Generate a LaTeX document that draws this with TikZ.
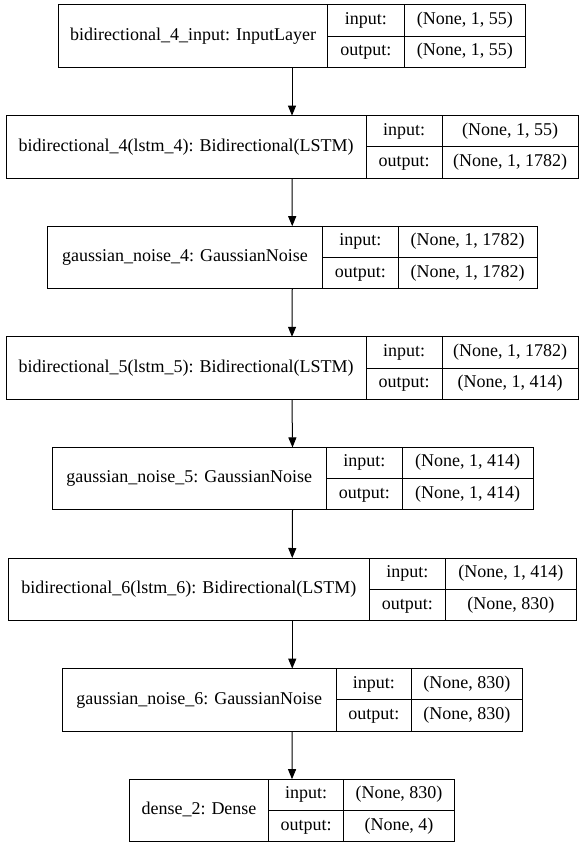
\documentclass[tikz,border=0pt]{standalone}
\usepackage{fontspec}
\setmainfont{Liberation Serif}
\usetikzlibrary{arrows.meta}

\tikzset{
  layerframe/.style={draw=black, line width=1pt, rectangle, inner sep=0pt, outer sep=0pt},
  divider/.style={draw=black, line width=1pt},
  celltext/.style={font=\fontsize{18}{20}\selectfont, inner sep=0pt, anchor=base},
  flow/.style={draw=black, line width=1pt, -{Triangle[length=10pt,width=8pt]}}
}

% One layer: #1 node name, #2 top edge, #3 left edge, #4 first divider,
% #5 second divider, #6 right edge, #7 layer title, #8 input shape, #9 output shape
\newcommand\kerasLayer[9]{%
  \pgfmathsetmacro\klWidth{#6-#3}%
  \pgfmathsetmacro\klCx{(#3+#6)/2}%
  \node[layerframe, minimum width=\klWidth pt, minimum height=62.5pt, anchor=north] (#1) at (\klCx,#2) {};
  \draw[divider] (#4,#2) -- (#4,{#2+62.5});
  \draw[divider] (#5,#2) -- (#5,{#2+62.5});
  \draw[divider] (#4,{#2+31.25}) -- (#6,{#2+31.25});
  \node[celltext] (#1-title) at ({(#3+#4)/2},{#2+35.5}) {#7};
  \node[celltext] (#1-inlab) at ({(#4+#5)/2},{#2+19.5}) {input:};
  \node[celltext] (#1-inval) at ({(#5+#6)/2},{#2+19.5}) {#8};
  \node[celltext] (#1-outlab) at ({(#4+#5)/2},{#2+51}) {output:};
  \node[celltext] (#1-outval) at ({(#5+#6)/2},{#2+51}) {#9};
}

\begin{document}
\begin{tikzpicture}[x=1pt, y=-1pt]
  \useasboundingbox (0,0) rectangle (583,848);

  \kerasLayer{L1}{5}{58.5}{327.5}{404}{525.5}{bidirectional\_4\_input: InputLayer}{(None, 1, 55)}{(None, 1, 55)}
  \kerasLayer{L2}{115.6}{6}{366}{442}{578}{bidirectional\_4(lstm\_4): Bidirectional(LSTM)}{(None, 1, 55)}{(None, 1, 1782)}
  \kerasLayer{L3}{226.2}{47.5}{322.5}{398}{537}{gaussian\_noise\_4: GaussianNoise}{(None, 1, 1782)}{(None, 1, 1782)}
  \kerasLayer{L4}{336.8}{6}{366}{442}{578}{bidirectional\_5(lstm\_5): Bidirectional(LSTM)}{(None, 1, 1782)}{(None, 1, 414)}
  \kerasLayer{L5}{447.4}{52}{326.5}{402}{533}{gaussian\_noise\_5: GaussianNoise}{(None, 1, 414)}{(None, 1, 414)}
  \kerasLayer{L6}{558}{8}{369.5}{445}{576.5}{bidirectional\_6(lstm\_6): Bidirectional(LSTM)}{(None, 1, 414)}{(None, 830)}
  \kerasLayer{L7}{668.6}{62}{336.5}{411}{522.5}{gaussian\_noise\_6: GaussianNoise}{(None, 830)}{(None, 830)}
  \kerasLayer{L8}{779.2}{129.5}{268.5}{343.5}{454.5}{dense\_2: Dense}{(None, 830)}{(None, 4)}

  \draw[flow] (L1.south) -- (L2.north);
  \draw[flow] (L2.south) -- (L3.north);
  \draw[flow] (L3.south) -- (L4.north);
  \draw[flow] (L4.south) -- (L5.north);
  \draw[flow] (L5.south) -- (L6.north);
  \draw[flow] (L6.south) -- (L7.north);
  \draw[flow] (L7.south) -- (L8.north);
\end{tikzpicture}
\end{document}
